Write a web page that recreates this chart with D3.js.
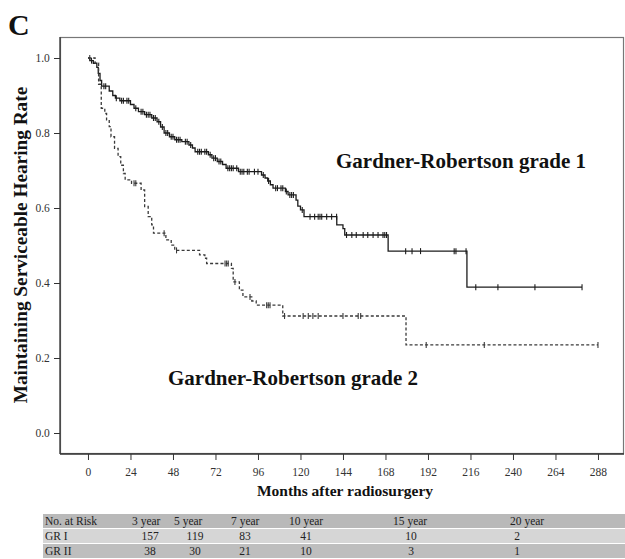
<!DOCTYPE html>
<html>
<head>
<meta charset="utf-8">
<script src="https://cdn.jsdelivr.net/npm/d3@7"></script>
<style>
  html, body { margin: 0; padding: 0; background: #fff; }
  svg { display: block; }
</style>
</head>
<body>
<svg id="chart" width="625" height="559"></svg>
<script>
// Kaplan–Meier estimates: month of each event and the survival after it
const gr1Months = [1, 3, 5, 5.8, 6.8, 7.7, 12, 14, 15.5, 18, 24, 26, 28.5, 32, 36, 39, 41, 43, 46, 49, 53, 57, 59, 60.5, 68, 70, 73, 76, 78, 85, 98, 100, 101.5, 103, 104.5, 111.5, 113, 117.5, 118.5, 120, 122, 140.5, 144, 145, 169.5, 214];
const gr1Survival = [0.993, 0.986, 0.975, 0.959, 0.94, 0.925, 0.912, 0.9, 0.893, 0.886, 0.876, 0.866, 0.857, 0.849, 0.84, 0.83, 0.816, 0.8, 0.79, 0.782, 0.777, 0.768, 0.76, 0.75, 0.742, 0.733, 0.724, 0.716, 0.706, 0.697, 0.688, 0.68, 0.672, 0.662, 0.653, 0.644, 0.635, 0.621, 0.605, 0.595, 0.577, 0.555, 0.545, 0.528, 0.485, 0.389];
const gr1Censored = [2, 9, 10, 16, 19, 20, 22, 23, 27, 30, 31, 33, 34, 35, 37, 38, 40, 42, 44, 45, 47, 48, 50, 51, 52, 55, 56, 58, 62, 63, 64, 66, 67, 69, 71, 72, 74, 75, 79, 80, 81, 82, 84, 86, 87, 88, 90, 91, 94, 96, 99, 102, 106, 107, 109, 110, 112, 114, 115, 116, 121, 125.4, 128, 130, 131, 132, 134.8, 137.6, 140.4, 146, 149, 151.5, 155.4, 158, 161, 163.8, 166.6, 167.6, 168.6, 179.4, 183, 187.8, 206.8, 207.8, 213.5, 219, 231.5, 252.4, 279];
const gr1LastFollowUp = 279;

const gr2Months = [4, 6, 7.5, 9.5, 10.5, 12, 13, 15, 17, 18.5, 20, 21, 24.6, 30, 32, 34, 36, 37, 44, 47, 49, 63, 66, 67, 81, 82, 85.5, 87.5, 92.5, 95, 110, 179.6];
const gr2Survival = [0.986, 0.93, 0.866, 0.852, 0.835, 0.817, 0.79, 0.759, 0.737, 0.714, 0.692, 0.675, 0.666, 0.648, 0.604, 0.577, 0.555, 0.533, 0.515, 0.501, 0.487, 0.475, 0.466, 0.452, 0.439, 0.403, 0.381, 0.363, 0.352, 0.341, 0.312, 0.235];
const gr2Censored = [1, 26, 27, 43, 50, 77.4, 78.3, 79.2, 83, 91.5, 100.9, 101.8, 102.8, 111, 121.5, 124.4, 127, 130, 144, 152.6, 154, 191, 223.8, 288];
const gr2LastFollowUp = 288;

const xTicks = [0, 24, 48, 72, 96, 120, 144, 168, 192, 216, 240, 264, 288];
const yTicks = [0.0, 0.2, 0.4, 0.6, 0.8, 1.0];

// Numbers at risk
const riskHeaders = ["3 year", "5 year", "7 year", "10 year", "15 year", "20 year"];
const riskGroups = ["GR I", "GR II"];
const riskGR1 = [157, 119, 83, 41, 10, 2];
const riskGR2 = [38, 30, 21, 10, 3, 1];

const serif = "'Liberation Serif', 'Times New Roman', Times, serif";
const svg = d3.select("#chart");

const plot = { left: 60, right: 624, top: 37, bottom: 454 };
const x = d3.scaleLinear().domain([-15.8, 302.7]).range([plot.left, plot.right]);
const y = d3.scaleLinear().domain([-0.056, 1.056]).range([plot.bottom, plot.top]);

// panel letter
svg.append("text")
  .attr("x", 8).attr("y", 35)
  .attr("font-family", serif).attr("font-weight", "bold").attr("font-size", 30)
  .attr("fill", "#111").text("C");

// frame
svg.append("rect")
  .attr("x", plot.left + 0.5).attr("y", plot.top + 0.5)
  .attr("width", plot.right - plot.left - 1).attr("height", plot.bottom - plot.top - 1)
  .attr("fill", "none").attr("stroke", "#777").attr("stroke-width", 1.2);

// axes
const xAxis = d3.axisBottom(x).tickValues(xTicks).tickSize(6).tickSizeOuter(0).tickFormat(d3.format("d"));
const gx = svg.append("g").attr("transform", `translate(0,${plot.bottom})`).call(xAxis);
const yAxis = d3.axisLeft(y).tickValues(yTicks).tickSize(6).tickSizeOuter(0).tickFormat(d3.format(".1f"));
const gy = svg.append("g").attr("transform", `translate(${plot.left},0)`).call(yAxis);

[gx, gy].forEach(g => {
  g.select(".domain").attr("stroke", "#333").attr("stroke-width", 1.3);
  g.selectAll(".tick line").attr("stroke", "#333").attr("stroke-width", 1);
  g.selectAll(".tick text")
    .attr("font-family", serif).attr("font-size", 11.5).attr("fill", "#333");
});
gx.select(".domain").attr("d", `M${plot.left},0H${plot.right}`);
gy.select(".domain").attr("d", `M0,${plot.bottom}V${plot.top}`);
gx.selectAll(".tick text").attr("dy", "1.1em");
gy.selectAll(".tick text").attr("dx", "-0.1em");

// axis titles
svg.append("text")
  .attr("x", 345).attr("y", 496).attr("text-anchor", "middle")
  .attr("font-family", serif).attr("font-weight", "bold").attr("font-size", 15.5)
  .attr("fill", "#111").text("Months after radiosurgery");

svg.append("text")
  .attr("transform", "translate(27,245) rotate(-90)").attr("text-anchor", "middle")
  .attr("font-family", serif).attr("font-weight", "bold").attr("font-size", 19.3)
  .attr("fill", "#111").text("Maintaining Serviceable Hearing Rate");

// survival curves
function stepPoints(months, surv, last) {
  const pts = [[0, 1]];
  months.forEach((m, i) => pts.push([m, surv[i]]));
  pts.push([last, surv[surv.length - 1]]);
  return pts;
}
function survivalAt(months, surv, t) {
  let s = 1;
  months.forEach((m, i) => { if (m <= t) s = surv[i]; });
  return s;
}
const line = d3.line().x(d => x(d[0])).y(d => y(d[1])).curve(d3.curveStepAfter);

const groups = [
  { months: gr1Months, surv: gr1Survival, cens: gr1Censored, last: gr1LastFollowUp, color: "#1c1c1c", dash: null, width: 1.3 },
  { months: gr2Months, surv: gr2Survival, cens: gr2Censored, last: gr2LastFollowUp, color: "#3a3a3a", dash: "3,2.2", width: 1.3 }
];

groups.forEach(g => {
  svg.append("path")
    .datum(stepPoints(g.months, g.surv, g.last))
    .attr("d", line)
    .attr("fill", "none")
    .attr("stroke", g.color)
    .attr("stroke-width", g.width)
    .attr("stroke-dasharray", g.dash);

  svg.append("g").selectAll("line")
    .data(g.cens)
    .join("line")
    .attr("x1", d => x(d)).attr("x2", d => x(d))
    .attr("y1", d => y(survivalAt(g.months, g.surv, d)) - 3)
    .attr("y2", d => y(survivalAt(g.months, g.surv, d)) + 3)
    .attr("stroke", g.color).attr("stroke-width", 1.1);
});

// curve labels
svg.append("text")
  .attr("x", 461).attr("y", 168).attr("text-anchor", "middle")
  .attr("font-family", serif).attr("font-weight", "bold").attr("font-size", 21)
  .attr("fill", "#111").text("Gardner-Robertson grade 1");
svg.append("text")
  .attr("x", 293).attr("y", 385).attr("text-anchor", "middle")
  .attr("font-family", serif).attr("font-weight", "bold").attr("font-size", 21)
  .attr("fill", "#111").text("Gardner-Robertson grade 2");

// number-at-risk table
const table = { left: 43, right: 625, top: 514, rowH: 15 };
const rowFills = ["#b9b9b9", "#d6d6d6", "#bebebe"];
const headerX = [132, 174, 231, 289, 393, 510];
const numberX = [150, 195, 245, 306, 411, 517];

const tg = svg.append("g").attr("font-family", serif).attr("font-size", 11.5).attr("fill", "#222");
rowFills.forEach((f, i) => {
  tg.append("rect")
    .attr("x", table.left).attr("y", table.top + i * table.rowH)
    .attr("width", table.right - table.left).attr("height", table.rowH - 1)
    .attr("fill", f);
});
const baseY = i => table.top + i * table.rowH + 11;
tg.append("text").attr("x", 45).attr("y", baseY(0)).text("No. at Risk");
tg.selectAll(".hdr").data(riskHeaders).join("text")
  .attr("class", "hdr").attr("x", (d, i) => headerX[i]).attr("y", baseY(0)).text(d => d);
[riskGR1, riskGR2].forEach((vals, r) => {
  tg.append("text").attr("x", 45).attr("y", baseY(r + 1)).text(riskGroups[r]);
  tg.selectAll(".n" + r).data(vals).join("text")
    .attr("class", "n" + r)
    .attr("x", (d, i) => numberX[i]).attr("y", baseY(r + 1))
    .attr("text-anchor", "middle").text(d => d);
});
</script>
</body>
</html>
